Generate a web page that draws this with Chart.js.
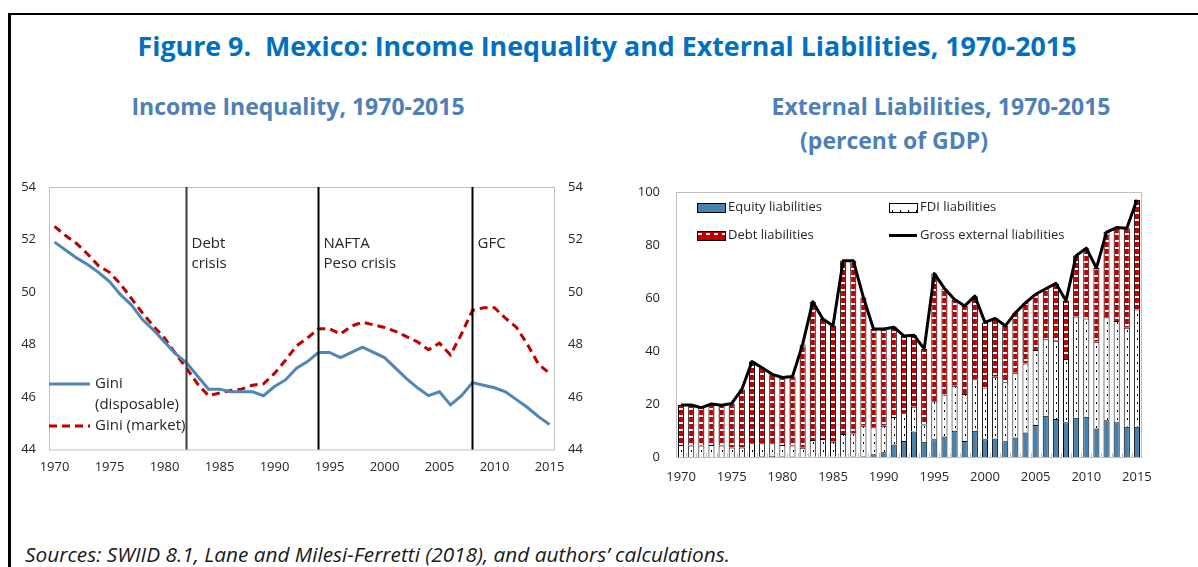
<!DOCTYPE html>
<html>
<head>
<meta charset="utf-8">
<script src="https://cdn.jsdelivr.net/npm/chart.js@4.4.1/dist/chart.umd.min.js"></script>
<style>
  html, body { margin: 0; padding: 0; background: #fff; }
  body { width: 1198px; height: 567px; position: relative; overflow: hidden; font-family: 'Open Sans', sans-serif; }
  .frame-top { position: absolute; left: 8px; top: 13px; width: 1190px; height: 2px; background: #000; }
  .frame-left { position: absolute; left: 8px; top: 13px; width: 3px; height: 554px; background: #000; }
  .title { position: absolute; left: 607px; top: 28px; transform: translateX(-50%); white-space: nowrap;
           font-size: 26.8px; font-weight: 700; color: #0070c0; line-height: 36px; }
  .sub { position: absolute; transform: translateX(-50%); white-space: nowrap;
         font-size: 23px; font-weight: 700; color: #4d80b6; line-height: 30px; }
  .source { position: absolute; left: 25px; top: 540px; white-space: nowrap;
            font-size: 20.8px; font-style: italic; color: #1a1a1a; line-height: 28px; }
  canvas { position: absolute; }
</style>
</head>
<body>
<div class="frame-top"></div>
<div class="frame-left"></div>
<div class="title">Figure 9.&nbsp; Mexico: Income Inequality and External Liabilities, 1970-2015</div>
<div class="sub" style="left:298px; top:91px;">Income Inequality, 1970-2015</div>
<div class="sub" style="left:941px; top:91px;">External Liabilities, 1970-2015</div>
<div class="sub" style="left:894px; top:125px;">(percent of GDP)</div>
<canvas id="giniChart" width="600" height="310" style="left:0; top:175px;"></canvas>
<canvas id="liabChart" width="598" height="315" style="left:600px; top:175px;"></canvas>
<div class="source">Sources: SWIID 8.1, Lane and Milesi-Ferretti (2018), and authors’ calculations.</div>

<script>
const years = [];
for (let y = 1970; y <= 2015; y++) years.push(String(y));

// Gini
const giniDisposable = [
  51.9, 51.6, 51.3, 51.05, 50.75, 50.4, 49.9, 49.5, 48.95, 48.55,
  48.1, 47.65, 47.3, 46.8, 46.3, 46.3, 46.2, 46.2, 46.2, 46.05,
  46.4, 46.65, 47.1, 47.35, 47.7, 47.7, 47.5, 47.7, 47.9, 47.7,
  47.5, 47.1, 46.7, 46.35, 46.05, 46.2, 45.7, 46.05, 46.55, 46.45,
  46.35, 46.2, 45.9, 45.6, 45.25, 44.95
];
const giniMarket = [
  52.5, 52.15, 51.85, 51.45, 51.0, 50.75, 50.3, 49.75, 49.2, 48.7,
  48.25, 47.65, 47.1, 46.5, 46.05, 46.15, 46.25, 46.3, 46.45, 46.5,
  46.9, 47.4, 47.95, 48.25, 48.6, 48.6, 48.4, 48.7, 48.85, 48.75,
  48.65, 48.5, 48.3, 48.1, 47.8, 48.05, 47.6, 48.4, 49.3, 49.4,
  49.4, 49.0, 48.65, 48.0, 47.25, 46.9
];
const giniTicks = [44, 46, 48, 50, 52, 54];

const eventYears = ['1982', '1994', '2008'];
const eventLabels = [['Debt', 'crisis'], ['NAFTA', 'Peso crisis'], ['GFC']];

// External liabilities, percent of GDP
const equityLiab = [
  0, 0, 0, 0, 0, 0, 0, 0, 0.3, 0.5,
  0.3, 0.2, 0.1, 0.1, 0.1, 0.1, 0.1, 0.2, 0.3, 1.0,
  1.8, 4.7, 6.0, 9.6, 5.8, 6.7, 7.7, 9.9, 6.0, 9.9,
  6.7, 7.0, 5.9, 7.4, 9.2, 12.1, 15.6, 14.3, 13.1, 14.8,
  15.2, 10.8, 13.9, 13.1, 11.4, 11.4
];
const fdiLiab = [
  4.5, 4.3, 4.3, 4.5, 4.3, 3.6, 3.6, 5.2, 4.9, 4.7,
  4.2, 4.1, 3.4, 6.3, 6.7, 5.7, 8.6, 8.7, 11.5, 10.2,
  10.0, 10.4, 10.5, 9.4, 6.5, 14.3, 15.9, 17.0, 17.8, 19.4,
  19.5, 23.3, 22.3, 24.4, 26.1, 28.3, 28.8, 29.6, 23.9, 38.2,
  37.1, 32.7, 38.8, 38.2, 37.4, 44.3
];
const debtLiab = [
  15.1, 15.3, 14.3, 15.5, 15.2, 16.6, 21.9, 30.8, 28.5, 26.0,
  25.5, 26.1, 39.0, 52.2, 45.3, 43.7, 65.4, 65.2, 48.4, 37.1,
  36.5, 33.9, 29.2, 26.9, 28.5, 48.2, 40.0, 32.5, 33.2, 31.4,
  24.6, 22.0, 21.3, 22.6, 22.9, 21.0, 19.1, 21.6, 22.0, 23.0,
  26.5, 27.8, 32.2, 35.3, 37.5, 41.4
];
const grossLiab = [
  19.6, 19.6, 18.6, 20.0, 19.5, 20.2, 25.5, 36.0, 33.7, 31.2,
  30.0, 30.4, 42.5, 58.6, 52.1, 49.5, 74.1, 74.1, 60.2, 48.3,
  48.3, 49.0, 45.7, 45.9, 40.8, 69.2, 63.6, 59.4, 57.0, 60.7,
  50.8, 52.3, 49.5, 54.4, 58.2, 61.4, 63.5, 65.5, 59.0, 76.0,
  78.8, 71.3, 84.9, 86.6, 86.3, 97.1
];
const liabTicks = [0, 20, 40, 60, 80, 100];

const tickFont = { family: 'Open Sans', size: 13 };
const textColor = '#262626';
const giniBlue = '#4f86b8';
const giniRed = '#c00000';
const equityBlue = '#4682b0';
const debtRed = '#c00000';

Chart.defaults.font.family = 'Open Sans';
Chart.defaults.color = textColor;

function onlyEvery5(value, index) {
  return Number(years[index]) % 5 === 0 ? years[index] : '';
}

// fixed axis sizes so the plot areas land where the reference has them
function fixWidth(w) {
  return function (scale) {
    scale.width = w;
    scale.paddingTop = 0;
    scale.paddingBottom = 0;
  };
}
function fixHeight(h) {
  return function (scale) {
    scale.height = h;
    scale.paddingLeft = 0;
    scale.paddingRight = 0;
  };
}

// gray box round the plot area
const plotBox = {
  id: 'plotBox',
  beforeDatasetsDraw(chart) {
    const a = chart.chartArea;
    const ctx = chart.ctx;
    ctx.save();
    ctx.strokeStyle = '#bfbfbf';
    ctx.lineWidth = 1;
    ctx.strokeRect(a.left + 0.5, a.top + 0.5, a.right - a.left - 1, a.bottom - a.top);
    ctx.restore();
  }
};

// event lines + labels on the gini panel
const eventMarks = {
  id: 'eventMarks',
  afterDatasetsDraw(chart) {
    const a = chart.chartArea;
    const ctx = chart.ctx;
    const x = chart.scales.x;
    ctx.save();
    ctx.font = '15px "Open Sans"';
    ctx.textBaseline = 'middle';
    eventYears.forEach((yr, i) => {
      const px = x.getPixelForValue(years.indexOf(yr));
      ctx.strokeStyle = i === 0 ? '#3c3c3c' : '#000';
      ctx.lineWidth = 2;
      ctx.beginPath();
      ctx.moveTo(px, a.top);
      ctx.lineTo(px, a.bottom);
      ctx.stroke();
      ctx.fillStyle = textColor;
      eventLabels[i].forEach((line, j) => {
        ctx.fillText(line, px + 5, a.top + 57 + j * 20);
      });
    });

    // legend
    const lx = a.left;
    const rows = [
      { y: a.top + 197, color: giniBlue, dash: [], text: ['Gini', '(disposable)'] },
      { y: a.top + 239, color: giniRed, dash: [8, 5], text: ['Gini (market)'] }
    ];
    rows.forEach(r => {
      ctx.strokeStyle = r.color;
      ctx.lineWidth = 3;
      ctx.setLineDash(r.dash);
      ctx.beginPath();
      ctx.moveTo(lx, r.y);
      ctx.lineTo(lx + 41, r.y);
      ctx.stroke();
      ctx.setLineDash([]);
      r.text.forEach((t, j) => ctx.fillText(t, lx + 46, r.y + j * 21));
    });
    ctx.restore();
  }
};

new Chart(document.getElementById('giniChart'), {
  type: 'line',
  data: {
    labels: years,
    datasets: [
      {
        label: 'Gini (disposable)',
        data: giniDisposable,
        borderColor: giniBlue,
        borderWidth: 3,
        pointRadius: 0,
        tension: 0,
        yAxisID: 'y'
      },
      {
        label: 'Gini (market)',
        data: giniMarket,
        borderColor: giniRed,
        borderWidth: 3,
        borderDash: [8, 5],
        pointRadius: 0,
        tension: 0,
        yAxisID: 'y'
      }
    ]
  },
  options: {
    responsive: false,
    animation: false,
    layout: { padding: { top: 12, left: 0, right: 0, bottom: 0 } },
    plugins: { legend: { display: false }, tooltip: { enabled: false } },
    scales: {
      x: {
        type: 'category',
        offset: true,
        grid: { display: false, drawTicks: false },
        border: { display: false },
        ticks: { autoSkip: false, maxRotation: 0, padding: 10, font: tickFont, callback: onlyEvery5 },
        afterFit: fixHeight(35.5)
      },
      y: {
        position: 'left',
        min: 44,
        max: 54,
        afterBuildTicks(scale) { scale.ticks = giniTicks.map(v => ({ value: v })); },
        grid: { display: false, drawTicks: false },
        border: { display: false },
        ticks: { padding: 13, font: tickFont },
        afterFit: fixWidth(49)
      },
      y1: {
        position: 'right',
        min: 44,
        max: 54,
        afterBuildTicks(scale) { scale.ticks = giniTicks.map(v => ({ value: v })); },
        grid: { display: false, drawTicks: false },
        border: { display: false },
        ticks: { padding: 13, font: tickFont },
        afterFit: fixWidth(45)
      }
    }
  },
  plugins: [plotBox, eventMarks]
});

// patterns for the stacked bars
function makeTile(w, h, draw) {
  const c = document.createElement('canvas');
  c.width = w;
  c.height = h;
  draw(c.getContext('2d'));
  return c;
}
const debtTile = makeTile(8, 7, g => {
  g.fillStyle = debtRed;
  g.fillRect(0, 0, 8, 7);
  g.fillStyle = '#fff';
  g.fillRect(2, 2, 4, 2);
});
const fdiTile = makeTile(8, 8, g => {
  g.fillStyle = '#fff';
  g.fillRect(0, 0, 8, 8);
  g.fillStyle = '#000';
  g.fillRect(4, 3, 1, 2);
});

function barPattern(tile, fallback) {
  return function (context) {
    const chart = context.chart;
    const x = chart.scales && chart.scales.x;
    if (!x || context.dataIndex === undefined) return fallback;
    const px = x.getPixelForValue(context.dataIndex);
    if (!isFinite(px)) return fallback;
    const pattern = chart.ctx.createPattern(tile, 'repeat');
    pattern.setTransform(new DOMMatrix().translate(Math.round(px) - 4, 0));
    return pattern;
  };
}

const liabLegend = {
  id: 'liabLegend',
  afterDatasetsDraw(chart) {
    const a = chart.chartArea;
    const ctx = chart.ctx;
    ctx.save();
    ctx.font = '13px "Open Sans"';
    ctx.textBaseline = 'middle';
    ctx.fillStyle = textColor;
    const items = [
      { x: a.left + 21, y: a.top + 15.5, fill: equityBlue, text: 'Equity liabilities' },
      { x: a.left + 21, y: a.top + 43.5, fill: ctx.createPattern(debtTile, 'repeat'), text: 'Debt liabilities' },
      { x: a.left + 213, y: a.top + 15.5, fill: ctx.createPattern(fdiTile, 'repeat'), text: 'FDI liabilities' },
      { x: a.left + 213, y: a.top + 43.5, fill: null, text: 'Gross external liabilities' }
    ];
    items.forEach(it => {
      if (it.fill) {
        ctx.fillStyle = it.fill;
        ctx.fillRect(it.x, it.y - 4.5, 28, 9);
        ctx.strokeStyle = '#000';
        ctx.lineWidth = 1;
        ctx.strokeRect(it.x + 0.5, Math.round(it.y - 4.5) + 0.5, 28, 9);
      } else {
        ctx.strokeStyle = '#000';
        ctx.lineWidth = 3;
        ctx.beginPath();
        ctx.moveTo(it.x, it.y);
        ctx.lineTo(it.x + 28, it.y);
        ctx.stroke();
      }
      ctx.fillStyle = textColor;
      ctx.fillText(it.text, it.x + 31, it.y);
    });

    // small gray ticks between the bars
    const n = years.length;
    const step = (a.right - a.left) / n;
    ctx.strokeStyle = '#bfbfbf';
    ctx.lineWidth = 1;
    for (let i = 1; i < n; i++) {
      const px = Math.round(a.left + i * step) + 0.5;
      ctx.beginPath();
      ctx.moveTo(px, a.bottom);
      ctx.lineTo(px, a.bottom - 4);
      ctx.stroke();
    }
    ctx.restore();
  }
};

new Chart(document.getElementById('liabChart'), {
  type: 'bar',
  data: {
    labels: years,
    datasets: [
      {
        type: 'line',
        label: 'Gross external liabilities',
        data: grossLiab,
        borderColor: '#000',
        borderWidth: 3,
        borderJoinStyle: 'round',
        pointRadius: 0,
        tension: 0,
        stack: 'gross',
        order: -1
      },
      {
        label: 'Equity liabilities',
        data: equityLiab,
        backgroundColor: equityBlue,
        borderColor: '#000',
        borderWidth: 1,
        stack: 'liab'
      },
      {
        label: 'FDI liabilities',
        data: fdiLiab,
        backgroundColor: barPattern(fdiTile, '#fff'),
        borderColor: '#000',
        borderWidth: 1,
        stack: 'liab'
      },
      {
        label: 'Debt liabilities',
        data: debtLiab,
        backgroundColor: barPattern(debtTile, debtRed),
        borderColor: '#000',
        borderWidth: 1,
        stack: 'liab'
      }
    ]
  },
  options: {
    responsive: false,
    animation: false,
    layout: { padding: { top: 17, left: 0, right: 56, bottom: 0 } },
    datasets: { bar: { categoryPercentage: 1, barPercentage: 0.6 } },
    plugins: { legend: { display: false }, tooltip: { enabled: false } },
    scales: {
      x: {
        type: 'category',
        offset: true,
        stacked: true,
        grid: { display: false, drawTicks: false },
        border: { display: false },
        ticks: { autoSkip: false, maxRotation: 0, padding: 12, font: tickFont, callback: onlyEvery5 },
        afterFit: fixHeight(33)
      },
      y: {
        stacked: true,
        min: 0,
        max: 100,
        afterBuildTicks(scale) { scale.ticks = liabTicks.map(v => ({ value: v })); },
        grid: { display: false, drawTicks: false },
        border: { display: false },
        ticks: { padding: 16, font: tickFont },
        afterFit: fixWidth(76)
      }
    }
  },
  plugins: [plotBox, liabLegend]
});
</script>
</body>
</html>
